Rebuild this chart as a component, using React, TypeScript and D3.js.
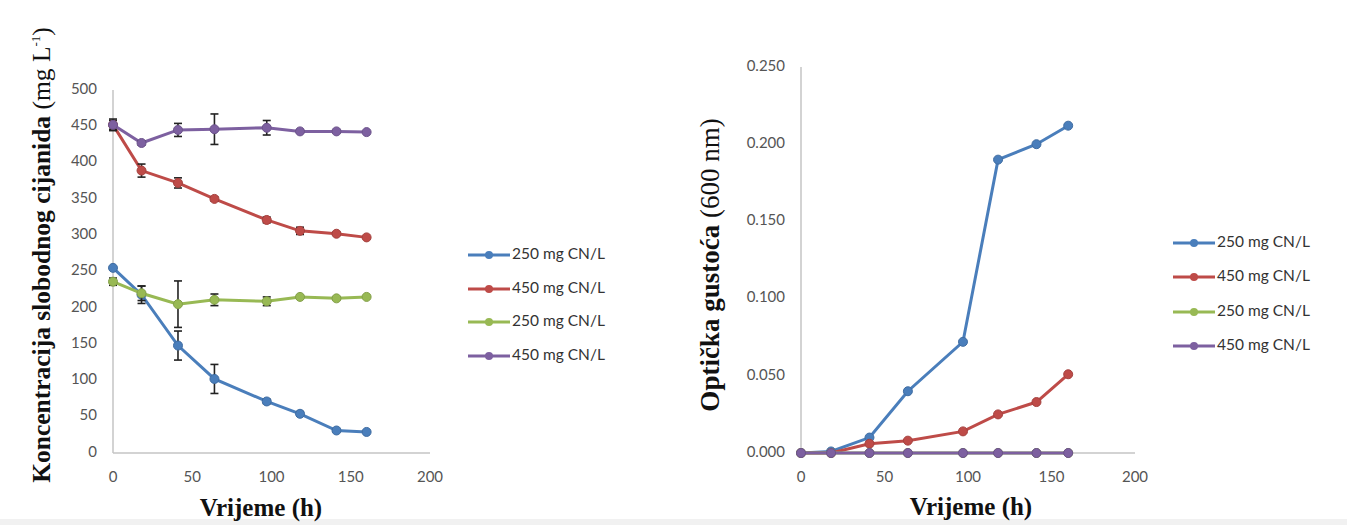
import React from "react";
import * as d3 from "d3";

const times = [0, 18, 41, 64, 97, 118, 141, 160];
const xTicks = [0, 50, 100, 150, 200];
const yTicksLeft = [0, 50, 100, 150, 200, 250, 300, 350, 400, 450, 500];
const yTicksRight = [0, 0.05, 0.1, 0.15, 0.2, 0.25];
const seriesNames = ["250 mg CN/L", "450 mg CN/L", "250 mg CN/L", "450 mg CN/L"];
const colors = ["#4a7ebb", "#be4b48", "#98b954", "#7d60a0"];

// Left chart: free cyanide concentration
const blueL = [255, 218, 148, 102, 71, 54, 31, 29];
const blueLErr = [0, 12, 20, 20, 3, 3, 2, 0];
const redL = [452, 389, 372, 350, 321, 306, 302, 297];
const redLErr = [6, 9, 7, 3, 4, 5, 2, 0];
const greenL = [236, 220, 205, 211, 209, 215, 213, 215];
const greenLErr = [5, 10, 32, 8, 6, 2, 2, 0];
const purpleL = [452, 427, 445, 446, 448, 443, 443, 442];
const purpleLErr = [8, 3, 9, 21, 10, 2, 2, 0];

// Right chart: optical density
const blueR = [0, 0.001, 0.01, 0.04, 0.072, 0.19, 0.2, 0.212];
const redR = [0, 0, 0.006, 0.008, 0.014, 0.025, 0.033, 0.051];
const greenR = [0, 0, 0, 0, 0, 0, 0, 0];
const purpleR = [0, 0, 0, 0, 0, 0, 0, 0];

const leftSeries = [
  { v: blueL, e: blueLErr },
  { v: redL, e: redLErr },
  { v: greenL, e: greenLErr },
  { v: purpleL, e: purpleLErr },
];
const rightSeries = [{ v: blueR }, { v: redR }, { v: greenR }, { v: purpleR }];

const tickFont = "Lato, 'Open Sans', sans-serif";
const titleFont = "'Liberation Serif', 'Times New Roman', serif";

function Panel({ x, y, series, yTicks, fmt }: any) {
  const line = d3
    .line<number>()
    .x((_, i) => x(times[i]))
    .y((d) => y(d));
  const [x0, x1] = x.range();
  const [y0, y1] = y.range();
  return (
    <g>
      <line x1={x0} x2={x1} y1={y0} y2={y0} stroke="#c4c4c4" strokeWidth={1.5} />
      <line x1={x0} x2={x0} y1={y0} y2={y1} stroke="#c4c4c4" strokeWidth={1.5} />
      {yTicks.map((t: number) => (
        <text
          key={"y" + t}
          x={x0 - 16}
          y={y(t)}
          textAnchor="end"
          dominantBaseline="middle"
          fontFamily={tickFont}
          fontSize={15}
          fill="#555"
        >
          {fmt(t)}
        </text>
      ))}
      {xTicks.map((t) => (
        <text
          key={"x" + t}
          x={x(t)}
          y={y0 + 25}
          textAnchor="middle"
          dominantBaseline="middle"
          fontFamily={tickFont}
          fontSize={15}
          fill="#555"
        >
          {t}
        </text>
      ))}
      {series.map((s: any, si: number) => (
        <g key={si}>
          <path d={line(s.v) || ""} fill="none" stroke={colors[si]} strokeWidth={3} />
          {s.e &&
            s.v.map((v: number, i: number) =>
              s.e[i] > 0 ? (
                <g key={i} stroke="#222" strokeWidth={1.6}>
                  <line x1={x(times[i])} x2={x(times[i])} y1={y(v + s.e[i])} y2={y(v - s.e[i])} />
                  <line x1={x(times[i]) - 4} x2={x(times[i]) + 4} y1={y(v + s.e[i])} y2={y(v + s.e[i])} />
                  <line x1={x(times[i]) - 4} x2={x(times[i]) + 4} y1={y(v - s.e[i])} y2={y(v - s.e[i])} />
                </g>
              ) : null
            )}
          {s.v.map((v: number, i: number) => (
            <circle
              key={"c" + i}
              cx={x(times[i])}
              cy={y(v)}
              r={4.5}
              fill={colors[si]}
              stroke={d3.color(colors[si])!.darker(0.4).toString()}
              strokeWidth={1}
            />
          ))}
        </g>
      ))}
    </g>
  );
}

function Legend({ lx, ys }: any) {
  return (
    <g>
      {seriesNames.map((n, i) => (
        <g key={i}>
          <line x1={lx} x2={lx + 42} y1={ys[i]} y2={ys[i]} stroke={colors[i]} strokeWidth={3} />
          <circle cx={lx + 21} cy={ys[i]} r={4} fill={colors[i]} />
          <text
            x={lx + 44}
            y={ys[i]}
            dominantBaseline="middle"
            fontFamily={tickFont}
            fontSize={15.5}
            fill="#333"
          >
            {n}
          </text>
        </g>
      ))}
    </g>
  );
}

export default function App() {
  const xL = d3.scaleLinear().domain([0, 200]).range([113, 430]);
  const yL = d3.scaleLinear().domain([0, 500]).range([453, 90]);
  const xR = d3.scaleLinear().domain([0, 200]).range([801, 1135]);
  const yR = d3.scaleLinear().domain([0, 0.25]).range([453, 67]);
  return (
    <svg
      width={1347}
      height={525}
      style={{ position: "absolute", left: 0, top: 0, background: "#fff" }}
    >
      <rect x={0} y={0} width={1347} height={525} fill="#fff" />
      <rect x={0} y={519} width={1347} height={6} fill="#f1f1f1" />
      <Panel x={xL} y={yL} series={leftSeries} yTicks={yTicksLeft} fmt={(t: number) => String(t)} />
      <Panel x={xR} y={yR} series={rightSeries} yTicks={yTicksRight} fmt={d3.format(".3f")} />
      <Legend lx={468} ys={[255, 289, 322, 356]} />
      <Legend lx={1173} ys={[243, 277, 312, 346]} />
      <text x={261} y={516} textAnchor="middle" fontFamily={titleFont} fontWeight="bold" fontSize={25} fill="#111">
        Vrijeme (h)
      </text>
      <text x={971} y={515} textAnchor="middle" fontFamily={titleFont} fontWeight="bold" fontSize={25} fill="#111">
        Vrijeme (h)
      </text>
      <text
        transform="translate(50,255) rotate(-90)"
        textAnchor="middle"
        fontFamily={titleFont}
        fontSize={25.5}
        fill="#111"
      >
        <tspan fontWeight="bold">Koncentracija slobodnog cijanida </tspan>
        <tspan>(mg L</tspan>
        <tspan fontSize={13} dy={-10}>-1</tspan>
        <tspan dy={10}>)</tspan>
      </text>
      <text
        transform="translate(719,265) rotate(-90)"
        textAnchor="middle"
        fontFamily={titleFont}
        fontSize={27}
        fill="#111"
      >
        <tspan fontWeight="bold">Optička gustoća </tspan>
        <tspan>(600 nm)</tspan>
      </text>
    </svg>
  );
}
